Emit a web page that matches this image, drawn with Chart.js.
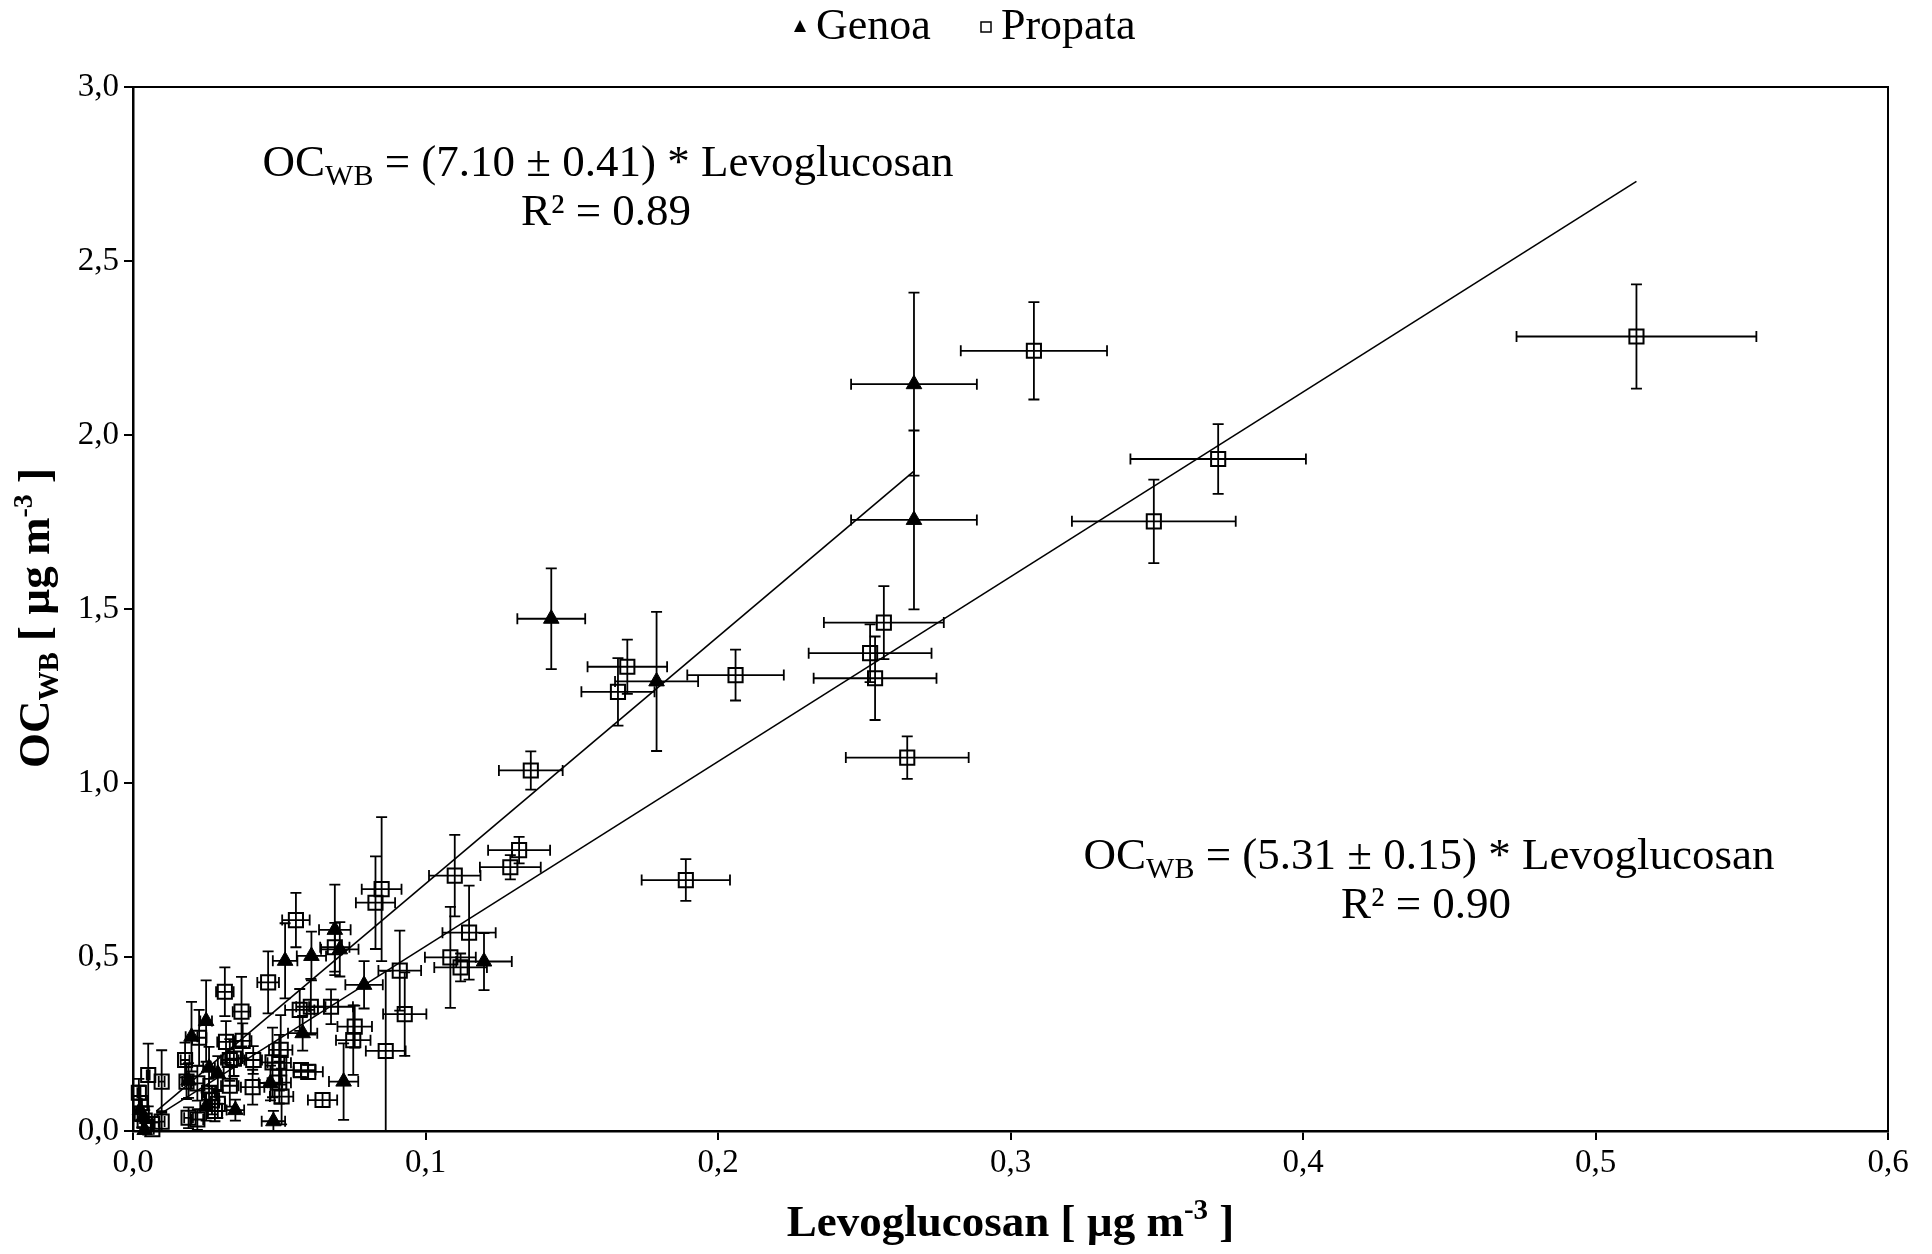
<!DOCTYPE html>
<html>
<head>
<meta charset="utf-8">
<script src="https://cdn.jsdelivr.net/npm/chart.js@4.4.1/dist/chart.umd.min.js"></script>
<style>
  html, body { margin: 0; padding: 0; background: #fff; }
  canvas { display: block; }
</style>
</head>
<body>
<canvas id="c" width="1932" height="1254"></canvas>
<script>
// ---------- data ----------
const genoaX    = [0.267, 0.267, 0.143, 0.179, 0.120, 0.079, 0.069, 0.0707, 0.061, 0.052, 0.058, 0.072, 0.048, 0.035, 0.047, 0.025, 0.020, 0.026, 0.029, 0.019, 0.025, 0.0035, 0.004, 0.0024];
const genoaY    = [2.146, 1.756, 1.472, 1.292, 0.487, 0.420, 0.578, 0.522, 0.503, 0.489, 0.281, 0.142, 0.028, 0.060, 0.138, 0.316, 0.271, 0.182, 0.165, 0.145, 0.070, 0.040, 0.003, 0.060];
const genoaXErr = [0.0215, 0.0215, 0.0116, 0.0142, 0.0095, 0.0064, 0.0054, 0.0064, 0.005, 0.0042, 0.005, 0.005, 0.004, 0.003, 0.004, 0.002, 0.002, 0.002, 0.002, 0.0015, 0.002, 0.0005, 0.0005, 0.0005];
const genoaYErr = [0.263, 0.257, 0.145, 0.20, 0.082, 0.068, 0.13, 0.078, 0.07, 0.108, 0.05, 0.11, 0.03, 0.03, 0.05, 0.117, 0.10, 0.06, 0.05, 0.05, 0.04, 0.03, 0.02, 0.03];

const propataX    = [0.514,0.308,0.371,0.349,0.2567,0.252,0.2537,0.206,0.169,0.1658,0.136,0.2647,0.189,0.132,0.129,0.110,0.1149,0.1085,0.112,0.0912,0.0929,0.0864,0.085,0.0829,0.0557,0.069,0.0462,0.0314,0.0371,0.0677,0.0608,0.057,0.0758,0.0753,0.0226,0.0318,0.0375,0.0331,0.0345,0.0411,0.0178,0.0505,0.0477,0.050,0.0574,0.0599,0.050,0.0508,0.0409,0.0331,0.0648,0.0183,0.022,0.019,0.022,0.027,0.029,0.028,0.026,0.0052,0.0098,0.0025,0.003,0.004,0.0098,0.0066,0.0066,0.002];
const propataY    = [2.283,2.242,1.931,1.752,1.461,1.373,1.301,1.310,1.334,1.262,1.036,1.073,0.721,0.807,0.758,0.734,0.570,0.499,0.470,0.461,0.336,0.230,0.695,0.656,0.606,0.528,0.427,0.400,0.343,0.357,0.357,0.348,0.300,0.261,0.268,0.256,0.259,0.204,0.208,0.204,0.204,0.233,0.197,0.196,0.175,0.170,0.139,0.099,0.126,0.130,0.089,0.142,0.137,0.038,0.033,0.088,0.078,0.058,0.110,0.161,0.142,0.080,0.050,0.030,0.027,0.020,0.005,0.110];
const propataXErr = [0.041,0.025,0.030,0.028,0.0205,0.021,0.021,0.0165,0.0136,0.0125,0.0109,0.021,0.0151,0.0106,0.0104,0.0088,0.0091,0.0087,0.009,0.0073,0.0074,0.0068,0.0068,0.0067,0.0047,0.005,0.0037,0.003,0.003,0.0075,0.005,0.005,0.0059,0.0059,0.0025,0.003,0.003,0.003,0.003,0.003,0.0015,0.004,0.004,0.004,0.005,0.005,0.004,0.004,0.004,0.003,0.005,0.0015,0.002,0.0015,0.002,0.0025,0.0025,0.0025,0.002,0.0005,0.001,0.0005,0.0005,0.0005,0.001,0.0005,0.0005,0.0005];
const propataYErr = [0.15,0.14,0.10,0.12,0.105,0.083,0.12,0.073,0.078,0.097,0.055,0.061,0.06,0.038,0.035,0.117,0.135,0.145,0.04,0.115,0.12,0.23,0.207,0.133,0.078,0.07,0.089,0.07,0.10,0.05,0.08,0.06,0.06,0.1,0.08,0.06,0.05,0.06,0.05,0.04,0.05,0.1,0.1,0.08,0.02,0.02,0.06,0.08,0.05,0.06,0.02,0.05,0.05,0.03,0.03,0.04,0.04,0.03,0.04,0.09,0.09,0.05,0.04,0.03,0.03,0.02,0.02,0.04];

// regression lines (end points)
const genoaFitX   = [0.008, 0.267];
const genoaFitY   = [0.057, 1.896];
const propataFitX = [0.008, 0.514];
const propataFitY = [0.042, 2.729];

const xTicks = [0, 0.1, 0.2, 0.3, 0.4, 0.5, 0.6];
const yTicks = [0, 0.5, 1.0, 1.5, 2.0, 2.5, 3.0];

const seriesNames = ['Genoa', 'Propata'];
const eqGenoa   = ['(7.10 ± 0.41) * Levoglucosan', 'R² = 0.89'];
const eqPropata = ['(5.31 ± 0.15) * Levoglucosan', 'R² = 0.90'];

// ---------- helpers ----------
const FONT = "'Liberation Serif', 'Times New Roman', serif";
const pts = (xs, ys) => xs.map((x, i) => ({ x: x, y: ys[i] }));
const fmt = v => Number(v).toFixed(1).replace('.', ',');

function drawRich(ctx, parts, x, y, align) {
  let total = 0;
  parts.forEach(p => {
    ctx.font = (p.bold ? 'bold ' : '') + p.size + 'px ' + FONT;
    p.w = ctx.measureText(p.t).width;
    total += p.w;
  });
  let cx = align === 'center' ? x - total / 2 : x;
  ctx.textBaseline = 'alphabetic';
  ctx.textAlign = 'left';
  parts.forEach(p => {
    ctx.font = (p.bold ? 'bold ' : '') + p.size + 'px ' + FONT;
    ctx.fillText(p.t, cx, y + (p.dy || 0));
    cx += p.w;
  });
}

const errorBarPlugin = {
  id: 'errorBars',
  beforeDatasetsDraw(chart) {
    const ctx = chart.ctx;
    const xs = chart.scales.x, ys = chart.scales.y;
    ctx.save();
    ctx.strokeStyle = '#000';
    ctx.lineWidth = 1.8;
    const cap = 5.5;
    chart.data.datasets.forEach(ds => {
      if (!ds.errX) return;
      ds.data.forEach((p, i) => {
        const px = xs.getPixelForValue(p.x), py = ys.getPixelForValue(p.y);
        const xl = xs.getPixelForValue(p.x - ds.errX[i]), xr = xs.getPixelForValue(p.x + ds.errX[i]);
        const yt = ys.getPixelForValue(p.y + ds.errY[i]), yb = ys.getPixelForValue(Math.max(0, p.y - ds.errY[i]));
        ctx.beginPath();
        ctx.moveTo(xl, py); ctx.lineTo(xr, py);
        ctx.moveTo(xl, py - cap); ctx.lineTo(xl, py + cap);
        ctx.moveTo(xr, py - cap); ctx.lineTo(xr, py + cap);
        ctx.moveTo(px, yt); ctx.lineTo(px, yb);
        ctx.moveTo(px - cap, yt); ctx.lineTo(px + cap, yt);
        ctx.moveTo(px - cap, yb); ctx.lineTo(px + cap, yb);
        ctx.stroke();
      });
    });
    ctx.restore();
  }
};

const decorPlugin = {
  id: 'decor',
  afterDraw(chart) {
    const ctx = chart.ctx;
    const a = chart.chartArea;
    ctx.save();
    // frame (top and right)
    ctx.strokeStyle = '#000';
    ctx.lineWidth = 2;
    ctx.beginPath();
    ctx.moveTo(a.left, a.top); ctx.lineTo(a.right, a.top); ctx.lineTo(a.right, a.bottom);
    ctx.stroke();

    ctx.fillStyle = '#000';
    // legend
    const ly = 27;
    ctx.beginPath();
    ctx.moveTo(800, ly - 7); ctx.lineTo(806, ly + 5); ctx.lineTo(794, ly + 5); ctx.closePath();
    ctx.fill();
    drawRich(ctx, [{ t: seriesNames[0], size: 44 }], 816, 39, 'left');
    ctx.lineWidth = 1.5;
    ctx.strokeRect(981, ly - 5, 10, 10);
    drawRich(ctx, [{ t: seriesNames[1], size: 44 }], 1001, 39, 'left');

    // equations
    const S = 45;
    drawRich(ctx, [{ t: 'OC', size: S }, { t: 'WB', size: 30, dy: 9 }, { t: ' = ' + eqGenoa[0], size: S }], 608, 176, 'center');
    drawRich(ctx, [{ t: eqGenoa[1], size: S }], 606, 225, 'center');
    drawRich(ctx, [{ t: 'OC', size: S }, { t: 'WB', size: 30, dy: 9 }, { t: ' = ' + eqPropata[0], size: S }], 1429, 869, 'center');
    drawRich(ctx, [{ t: eqPropata[1], size: S }], 1426, 918, 'center');

    // axis titles
    const xc = (a.left + a.right) / 2;
    drawRich(ctx, [{ t: 'Levoglucosan [ µg m', size: 45, bold: true }, { t: '-3', size: 29, bold: true, dy: -17 }, { t: ' ]', size: 45, bold: true }], xc, 1236, 'center');
    ctx.translate(49, 618);
    ctx.rotate(-Math.PI / 2);
    drawRich(ctx, [{ t: 'OC', size: 45, bold: true }, { t: 'WB', size: 29, bold: true, dy: 9 }, { t: ' [ µg m', size: 45, bold: true }, { t: '-3', size: 28, bold: true, dy: -17 }, { t: ' ]', size: 45, bold: true }], 0, 0, 'center');
    ctx.restore();
  }
};

const ctx = document.getElementById('c').getContext('2d');
new Chart(ctx, {
  type: 'scatter',
  data: {
    datasets: [
      {
        label: 'Genoa fit', type: 'line', data: pts(genoaFitX, genoaFitY),
        borderColor: '#000', borderWidth: 1.6, pointRadius: 0, fill: false, order: 3
      },
      {
        label: 'Propata fit', type: 'line', data: pts(propataFitX, propataFitY),
        borderColor: '#000', borderWidth: 1.6, pointRadius: 0, fill: false, order: 4
      },
      {
        label: seriesNames[0], data: pts(genoaX, genoaY), errX: genoaXErr, errY: genoaYErr,
        pointStyle: 'triangle', pointRadius: 9, backgroundColor: '#000', borderColor: '#000',
        borderWidth: 1, clip: false, order: 1
      },
      {
        label: seriesNames[1], data: pts(propataX, propataY), errX: propataXErr, errY: propataYErr,
        pointStyle: 'rect', pointRadius: 10, backgroundColor: 'rgba(255,255,255,0)', borderColor: '#000',
        borderWidth: 2, clip: false, order: 2
      }
    ]
  },
  options: {
    responsive: false,
    devicePixelRatio: 1,
    animation: false,
    layout: { padding: { top: 87, right: 44, left: 0, bottom: 0 } },
    plugins: { legend: { display: false }, tooltip: { enabled: false } },
    scales: {
      x: {
        type: 'linear', min: xTicks[0], max: xTicks[xTicks.length - 1],
        afterBuildTicks: s => { s.ticks = xTicks.map(v => ({ value: v })); },
        afterFit: s => { s.height = 123; },
        ticks: { callback: fmt, color: '#000', font: { family: FONT, size: 33 }, padding: 4, maxRotation: 0 },
        grid: { drawOnChartArea: false, drawTicks: true, tickLength: 9, color: '#000', lineWidth: 2 },
        border: { display: true, color: '#000', width: 2.5 }
      },
      y: {
        type: 'linear', min: yTicks[0], max: yTicks[yTicks.length - 1],
        afterBuildTicks: s => { s.ticks = yTicks.map(v => ({ value: v })); },
        afterFit: s => { s.width = 133; },
        ticks: { callback: fmt, color: '#000', font: { family: FONT, size: 33 }, padding: 5 },
        grid: { drawOnChartArea: false, drawTicks: true, tickLength: 9, color: '#000', lineWidth: 2 },
        border: { display: true, color: '#000', width: 2.5 }
      }
    }
  },
  plugins: [errorBarPlugin, decorPlugin]
});
</script>
</body>
</html>
